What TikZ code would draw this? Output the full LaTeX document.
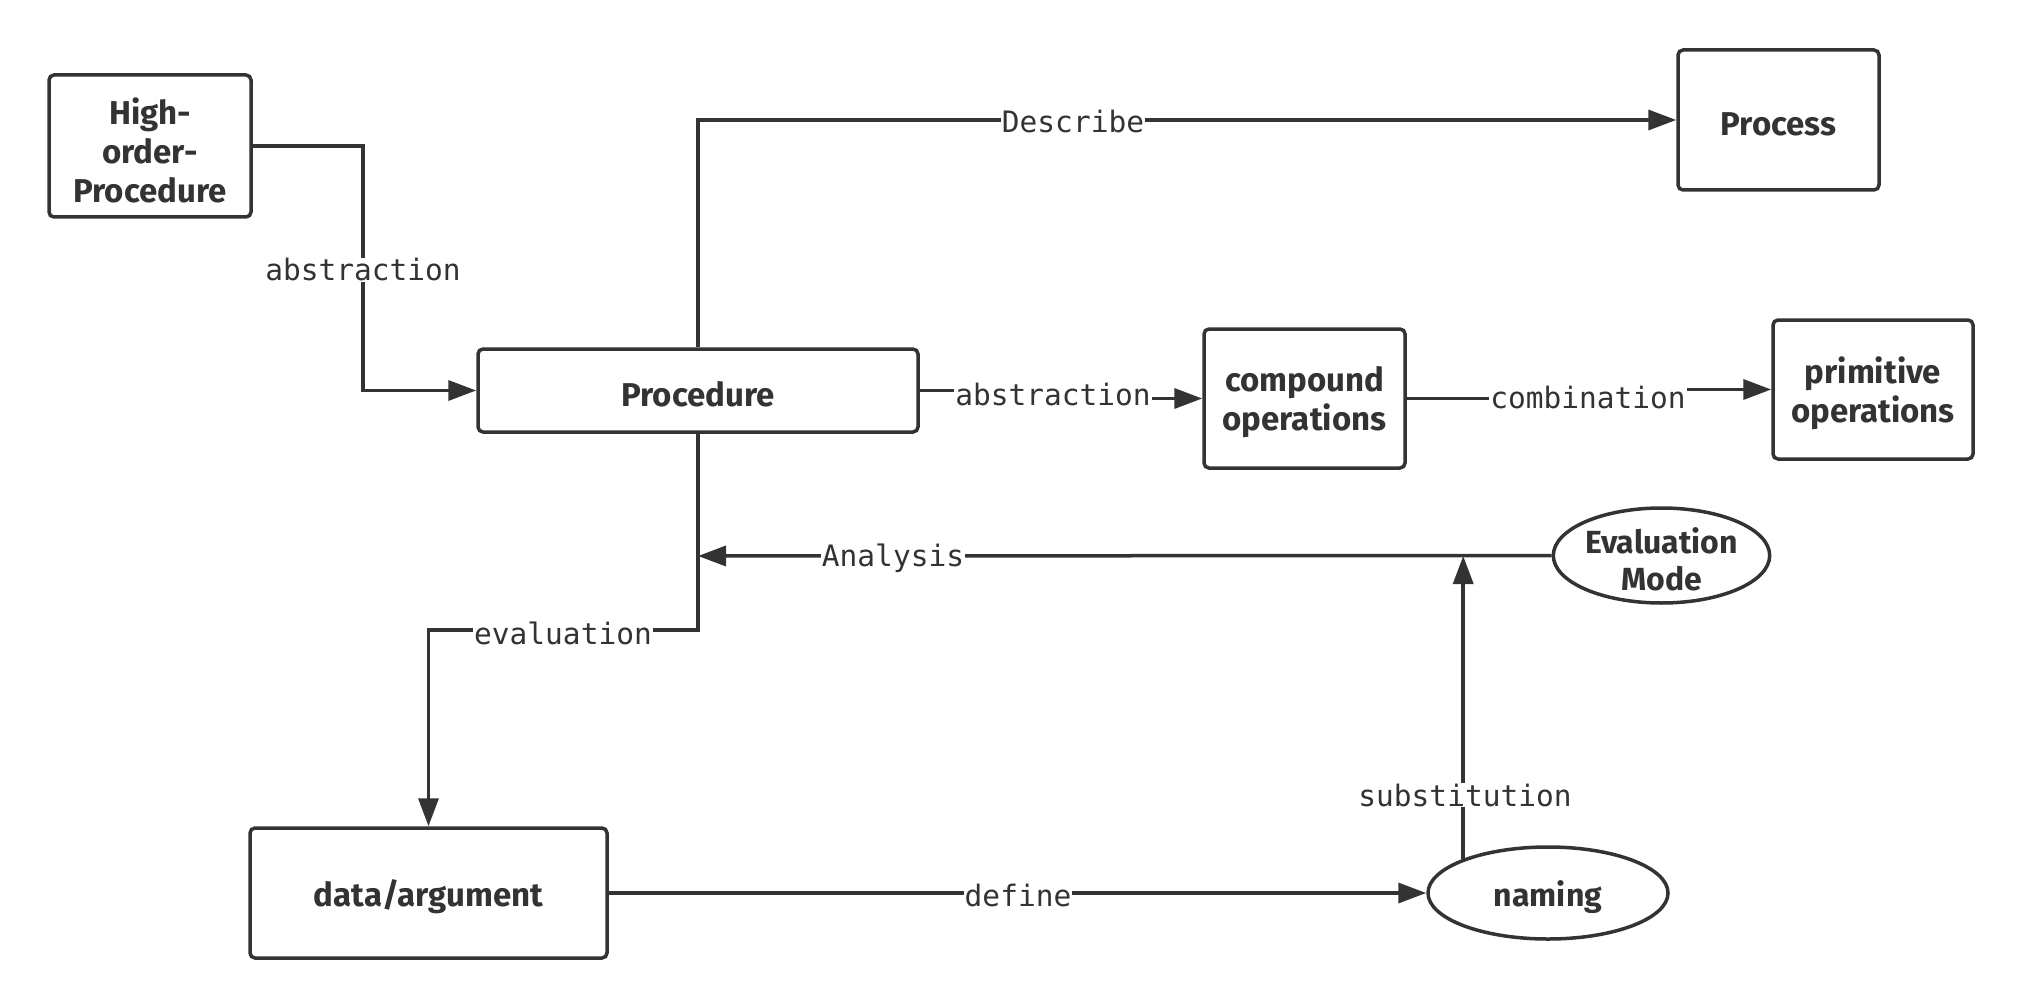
\documentclass[tikz,border=0pt]{standalone}
\usepackage{fontspec}
\setmainfont{Fira Sans}
\newfontfamily\lblfont{DejaVu Sans Mono}
\usetikzlibrary{arrows.meta,shapes.geometric}
\definecolor{ink}{HTML}{333333}
\newcommand\dn[1]{\raisebox{-4pt}[\height][\depth]{#1}}
\begin{document}
\begin{tikzpicture}[x=1pt,y=-1pt,
  box/.style={draw=ink, line width=3.5pt, rounded corners=5pt, fill=white, text=ink,
    font=\fontsize{33}{39}\selectfont\bfseries, align=center, inner sep=0pt},
  oval/.style={ellipse, draw=ink, line width=3.5pt, fill=white, text=ink,
    font=\fontsize{32}{37}\selectfont\bfseries, align=center, inner xsep=0pt, inner ysep=-16pt},
  conn/.style={draw=ink, line width=3.5pt, -{Triangle[length=28pt,width=20pt]}},
  lbl/.style={fill=white, text=ink, font=\lblfont\fontsize{29.5}{32}\selectfont, inner sep=1pt}]
\useasboundingbox (0,0) rectangle (2023,1008);

% nodes
\node[box, minimum width=202pt, minimum height=142pt] (hop) at (150,146) {\dn{High-}\\\dn{order-}\\\dn{Procedure}};
\node[box, minimum width=440pt, minimum height=83pt] (proc) at (698,390.5) {\dn{Procedure}};
\node[box, minimum width=201pt, minimum height=140pt] (process) at (1778.5,120) {\dn{Process}};
\node[box, minimum width=201pt, minimum height=139pt] (comp) at (1304.5,398.5) {\dn{compound}\\\dn{operations}};
\node[box, minimum width=200pt, minimum height=139pt] (prim) at (1873,389.5) {\dn{primitive}\\\dn{operations}};
\node[oval, minimum width=213pt, minimum height=95pt] (evalm) at (1661.5,555.5) {\dn{Evaluation}\\\dn{Mode}};
\node[box, minimum width=357pt, minimum height=130pt] (data) at (428.5,893) {\dn{data/argument}};
\node[oval, minimum width=240pt, minimum height=92pt, inner ysep=0pt] (naming) at (1548,893) {\dn{naming}};

\coordinate (ajoin) at (698,556);
\coordinate (sjoin) at (1466,556);

% connectors
\draw[conn] (hop.east) -| (363,300) |- (proc.west);
\draw[conn] (proc.north) |- (process.west);
\draw[conn] (proc.east) -- (1053,390.5) -- (1053,398.5) -- (comp.west);
\draw[conn] (comp.east) -- (1588,398.5) -- (1588,389.5) -- (prim.west);
\draw[conn] (proc.south) -- (698,630) -| (data.north);
\draw[conn] (evalm.west) -- (ajoin);
\draw[conn] (data.east) -- (naming.west);
\draw[conn] (naming.158) -- (naming.158 |- sjoin);

% labels
\node[lbl] (l1) at (363,270) {abstraction};
\node[lbl] (l2) at (1073,122) {Describe};
\node[lbl] (l3) at (1053,395) {abstraction};
\node[lbl] (l4) at (1588,398) {combination};
\node[lbl] (l5) at (563,633) {evaluation};
\node[lbl] (l6) at (893,558) {Analysis};
\node[lbl] (l7) at (1018,895) {define};
\node[lbl] (l8) at (1465,795) {substitution};
\end{tikzpicture}
\end{document}
